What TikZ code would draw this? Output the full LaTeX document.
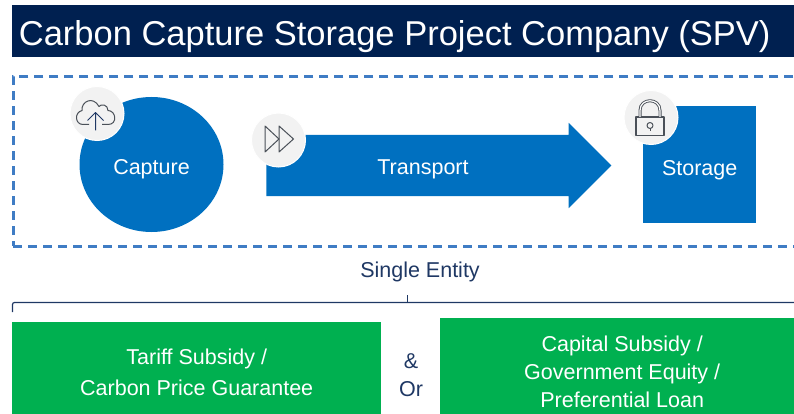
\documentclass[tikz,border=0pt]{standalone}
\usepackage{fontspec}
\setmainfont{Liberation Sans}
\usetikzlibrary{shapes.geometric, shapes.arrows, positioning}
\definecolor{navy}{HTML}{002050}
\definecolor{inknavy}{HTML}{1F3864}
\definecolor{bluefill}{HTML}{0070C0}
\definecolor{dashblue}{HTML}{3F7CC4}
\definecolor{greenfill}{HTML}{00B050}
\definecolor{iconfill}{HTML}{F2F2F2}
\definecolor{iconink}{HTML}{4A5058}

\begin{document}
\begin{tikzpicture}[x=1pt, y=-1pt]
\tikzstyle{stage} = [fill = bluefill, text = white, inner sep = 0pt, text height = 25pt, text depth = 4pt, font = \fontsize{21.5}{24}\selectfont]
\tikzstyle{badge} = [circle, minimum size = 54pt, inner sep = 0pt, fill = iconfill, draw = white, line width = 1pt]
\tikzstyle{support} = [anchor = north west, fill = greenfill, text = white, inner sep = 0pt, align = center]
\tikzstyle{plain} = [text = inknavy, inner sep = 0pt, font = \fontsize{21.5}{28}\selectfont, align = center]
\tikzstyle{icon} = [iconink, line width = 1pt, line join = round]
\useasboundingbox (0,0) rectangle (794,414);
\clip (0,0) rectangle (794,414);
  \node[anchor = north west, fill = navy, text = white, minimum width = 782pt, minimum height = 52pt, inner sep = 0pt, text height = 36pt, text depth = 8pt, font = \fontsize{34.5}{40}\selectfont] (title) at (12,5) {\hspace*{-17pt}Carbon Capture Storage Project Company (SPV)};
  \node[anchor = north west, draw = dashblue, line width = 2.6pt, dash pattern = on 9pt off 6pt, minimum width = 800pt, minimum height = 170pt, inner sep = 0pt] (frame) at (12,75) {};
  \node[stage, ellipse, minimum width = 144pt, minimum height = 135pt] (capture) at (151.5,164.5) {Capture};
  \node[stage, single arrow, text height = 61pt, text depth = 0pt, minimum width = 85pt, minimum height = 345pt, single arrow head extend = 12pt, single arrow tip angle = 90] (arrow) at (423.5,165.5) {};
  \node[stage, fill = none] (transport) at (423,164.5) {Transport};
  \node[stage, anchor = north west, minimum width = 113pt, minimum height = 117pt] (storage) at (643,106) {Storage};
  \node[badge] (cloud) at (97,113.5) {};
  \node[badge] (forward) at (278.5,140) {};
  \node[badge] (lock) at (651,117.5) {};
  % cloud icon
  \begin{scope}[shift = {(cloud.center)}]
    \draw[icon] (-8,11) -- (-14,11) .. controls (-22,11) and (-23,-1) .. (-15,-3) .. controls (-16,-12) and (-4,-18) .. (2,-7) .. controls (4,-10) and (11,-9) .. (11,-3) .. controls (19,-3) and (21,11) .. (11,11) -- (5,11);
    \draw[icon, inknavy] (-1.5,17) -- (-1.5,-1) (-9.5,7) -- (-1.5,-1) -- (6.5,7);
  \end{scope}
  % forward icon
  \begin{scope}[shift = {(forward.center)}]
    \draw[icon] (-13.5,-14) -- (0.5,-1) -- (-13.5,12) -- cycle;
    \draw[icon] (0.5,-14) -- (15,-1) -- (0.5,12) -- cycle;
  \end{scope}
  % lock icon
  \begin{scope}[shift = {(lock.center)}]
    \draw[icon, line width = 1.4pt] (-15,-0.5) rectangle (13,18);
    \draw[icon, double = white, double distance = 1.2pt, line width = 0.9pt] (-11,-0.5) -- (-11,-7) .. controls (-11,-20) and (9,-20) .. (9,-7) -- (9,-0.5);
    \draw[icon] (-1,8) circle (3pt);
    \draw[icon] (-1,11) -- (-1,14);
  \end{scope}
  \node[plain] (entity) at (420,272) {Single Entity};
  \coordinate (tick) at (407.5,295);
  \coordinate (joint) at (407.5,302.5);
  \coordinate (leftend) at (12.5,312);
  \coordinate (rightend) at (794,302.5);
  \draw[inknavy, line width = 1.2pt, rounded corners = 2pt] (leftend) |- (rightend);
  \draw[inknavy, line width = 1.2pt] (tick) -- (joint);
  \node[support, minimum width = 369pt, minimum height = 100pt, font = \fontsize{21.5}{31}\selectfont] (tariff) at (12,322) {Tariff Subsidy /\\Carbon Price Guarantee};
  \node[support, minimum width = 365pt, minimum height = 107pt, font = \fontsize{21.5}{28}\selectfont] (capital) at (439.5,318) {Capital Subsidy /\\Government Equity /\\Preferential Loan};
  \node[plain] (andor) at (411,375) {\&\\Or};
\end{tikzpicture}
\end{document}
